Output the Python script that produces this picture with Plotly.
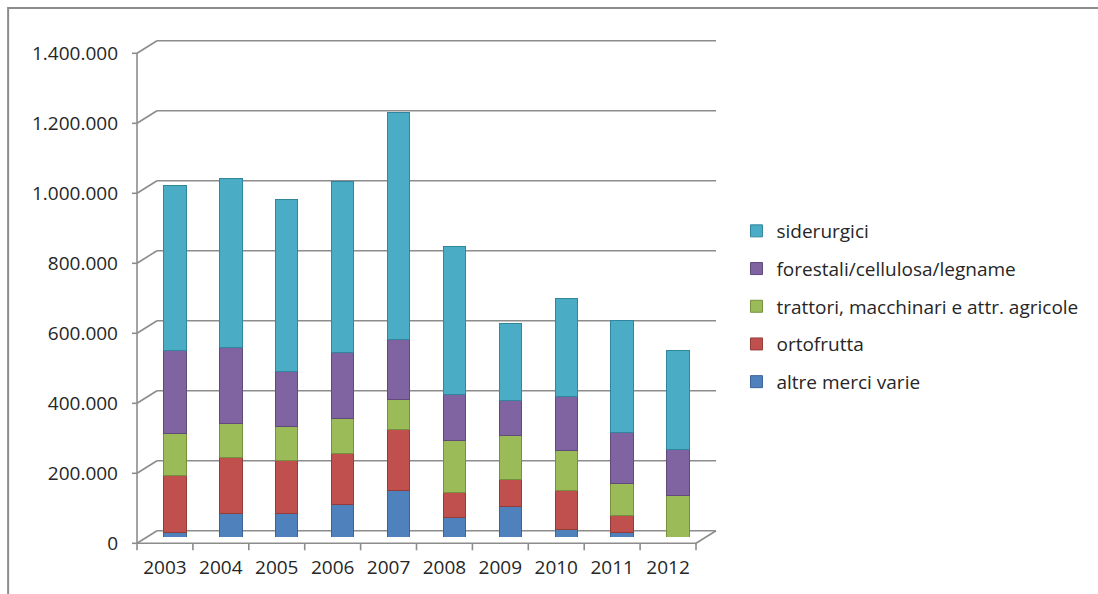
import plotly.graph_objects as go

# Years on the category axis
years = [2003, 2004, 2005, 2006, 2007, 2008, 2009, 2010, 2011, 2012]

# Tonnage by commodity group (stacked bottom to top)
altre_merci = [12000, 68000, 68000, 93000, 134000, 55000, 87000, 22000, 13000, 0]
ortofrutta = [163000, 159000, 152000, 146000, 172000, 72000, 76000, 112000, 49000, 0]
trattori = [121000, 98000, 97000, 100000, 88000, 150000, 126000, 113000, 91000, 120000]
forestali = [236000, 217000, 156000, 189000, 171000, 131000, 102000, 154000, 145000, 129000]
siderurgici = [473000, 481000, 490000, 487000, 647000, 421000, 220000, 281000, 322000, 283000]

series_names = [
    "altre merci varie",
    "ortofrutta",
    "trattori, macchinari e attr. agricole",
    "forestali/cellulosa/legname",
    "siderurgici",
]
series_values = [altre_merci, ortofrutta, trattori, forestali, siderurgici]
series_colors = ["#4F81BD", "#C0504D", "#9BBB59", "#8064A2", "#4BACC6"]
edge_colors = ["#3A6396", "#943C3A", "#76903F", "#5F4A7A", "#31859C"]

y_ticks = [0, 200000, 400000, 600000, 800000, 1000000, 1200000, 1400000]
y_tick_text = ["0", "200.000", "400.000", "600.000", "800.000",
               "1.000.000", "1.200.000", "1.400.000"]
y_max = 1400000

# Page and plot-area geometry (pixels)
W, H = 1098, 594
PL, PR, PT, PB = 147, 706.5, 47, 537
plot_w, plot_h = PR - PL, PB - PT

# depth offset of the front/back wall planes from the bar plane
DX = 10 / plot_w
DY = 6.3 / plot_h

GRID = "#8C8C8C"

fig = go.Figure()
n_series = len(series_names)
for i, (name, vals, col, edge) in enumerate(
        zip(series_names, series_values, series_colors, edge_colors)):
    fig.add_trace(go.Bar(
        x=years, y=vals, name=name,
        marker=dict(color=col, line=dict(color=edge, width=1)),
        legendgroup=name,
        legendrank=n_series - i,  # top of the stack listed first
    ))


def vfrac(v):
    return v / y_max


def line(x0, y0, x1, y1, width=1.6, color=GRID):
    return dict(type="line", xref="paper", yref="paper",
                x0=x0, y0=y0, x1=x1, y1=y1,
                line=dict(color=color, width=width), layer="below")


shapes = []
# back wall gridlines and the diagonal links to the front axis
for v in y_ticks:
    yb = vfrac(v) + DY
    yf = vfrac(v) - DY
    shapes.append(line(DX, yb, 1 + DX, yb))
    shapes.append(line(-DX, yf, DX, yb))
    shapes.append(line(-DX - 5 / plot_w, yf, -DX, yf))
# front vertical axis
shapes.append(line(-DX, -DY, -DX, 1 - DY))
# front floor edge with category separators
shapes.append(line(-DX, -DY, 1 - DX, -DY))
for k in range(len(years) + 1):
    xf = k / len(years) - DX
    shapes.append(line(xf, -DY, xf, -DY - 7 / plot_h))
# right floor edge
shapes.append(line(1 - DX, -DY, 1 + DX, DY))
# outer chart frame
shapes.append(dict(type="rect", xref="paper", yref="paper",
                   x0=(8 - PL) / plot_w, x1=(1110 - PL) / plot_w,
                   y0=(PB - 610) / plot_h, y1=(PB - 8) / plot_h,
                   line=dict(color="#8C8C8C", width=2), fillcolor="rgba(0,0,0,0)",
                   layer="below"))

FONT = "Open Sans, Noto Sans, DejaVu Sans, sans-serif"
TXT = "#262626"

fig.update_layout(
    width=W, height=H,
    margin=dict(l=PL, r=W - PR, t=PT, b=H - PB, pad=0),
    paper_bgcolor="white", plot_bgcolor="rgba(0,0,0,0)",
    barmode="stack", bargap=0.6,
    font=dict(family=FONT, size=19, color=TXT),
    shapes=shapes,
    showlegend=True,
    legend=dict(
        x=(737 - PL) / plot_w, y=(PB - 212) / plot_h,
        xanchor="left", yanchor="top",
        traceorder="grouped", tracegroupgap=10,
        font=dict(family=FONT, size=19, color=TXT),
        bgcolor="rgba(0,0,0,0)", itemwidth=30,
    ),
    xaxis=dict(
        tickmode="array", tickvals=years, ticktext=[str(y) for y in years],
        range=[years[0] - 0.5, years[-1] + 0.5],
        showgrid=False, zeroline=False, showline=False, ticks="",
        ticklabelshift=-10, ticklabelstandoff=17,
        tickfont=dict(family=FONT, size=19, color=TXT),
        fixedrange=True,
    ),
    yaxis=dict(
        tickmode="array", tickvals=y_ticks, ticktext=y_tick_text,
        range=[0, y_max],
        showgrid=False, zeroline=False, showline=False, ticks="",
        ticklabelstandoff=28, ticklabelshift=6,
        tickfont=dict(family=FONT, size=19, color=TXT),
        fixedrange=True,
    ),
)

fig.write_html("out.html")
